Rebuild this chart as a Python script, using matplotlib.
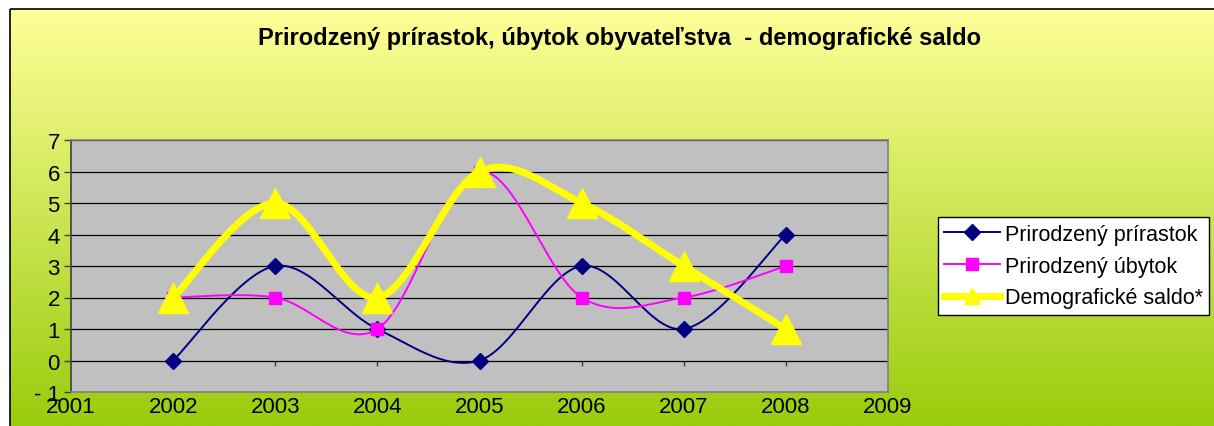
import numpy as np
import matplotlib
matplotlib.use('Agg')
from matplotlib import pyplot as plt
from matplotlib.patches import Rectangle

years = [2002, 2003, 2004, 2005, 2006, 2007, 2008]
prirastok = [0, 3, 1, 0, 3, 1, 4]
ubytok = [2, 2, 1, 6, 2, 2, 3]
saldo = [2, 5, 2, 6, 5, 3, 1]

labels = ['Prirodzený prírastok', 'Prirodzený úbytok', 'Demografické saldo*']
title = 'Prirodzený prírastok, úbytok obyvateľstva  - demografické saldo'

plt.rcParams['font.family'] = ['Liberation Sans', 'DejaVu Sans']


def smooth(x, y, n=30):
    # Excel-like smoothing: cubic bezier with catmull-rom control points
    x = np.asarray(x, float)
    y = np.asarray(y, float)
    px = np.concatenate([[x[0]], x, [x[-1]]])
    py = np.concatenate([[y[0]], y, [y[-1]]])
    xs, ys = [], []
    t = np.linspace(0, 1, n)
    for i in range(1, len(px) - 2):
        p0 = np.array([px[i], py[i]])
        p3 = np.array([px[i + 1], py[i + 1]])
        p1 = p0 + (np.array([px[i + 1], py[i + 1]]) - np.array([px[i - 1], py[i - 1]])) / 6
        p2 = p3 - (np.array([px[i + 2], py[i + 2]]) - np.array([px[i], py[i]])) / 6
        b = ((1 - t) ** 3)[:, None] * p0 + (3 * (1 - t) ** 2 * t)[:, None] * p1 \
            + (3 * (1 - t) * t ** 2)[:, None] * p2 + (t ** 3)[:, None] * p3
        xs.extend(b[:, 0])
        ys.extend(b[:, 1])
    return xs, ys


fig = plt.figure(figsize=(12.14, 4.27), dpi=100)

# background gradient with black frame
bg = fig.add_axes([0, 0, 1, 1])
bg.set_xlim(0, 1214)
bg.set_ylim(427, 0)
bg.axis('off')
grad = np.linspace(0, 1, 256)[:, None]
top = np.array([1.0, 1.0, 0.60])
bot = np.array([0.60, 0.80, 0.05])
img = top[None, None, :] * (1 - grad[:, :, None]) + bot[None, None, :] * grad[:, :, None]
bg.imshow(img, extent=[10, 1214, 427, 10], aspect='auto', zorder=0)
bg.add_patch(Rectangle((10, 10), 1220, 430, fill=False, edgecolor='black', lw=1.2, zorder=1))

fig.text(619 / 1214, 1 - 38 / 427, title, ha='center', va='center',
         fontsize=17, fontweight='bold')

ax = fig.add_axes([71 / 1214, 1 - 393 / 427, (888 - 71) / 1214, (393 - 141) / 427])
ax.set_facecolor('#C0C0C0')
ax.set_xlim(2001, 2009)
ax.set_ylim(-1, 7)

for yv in range(0, 8):
    ax.axhline(yv, color='black', lw=0.9, zorder=1)

ax.vlines(range(2002, 2010), -0.18, 0, color='#404040', lw=1, zorder=1)

x, y = smooth(years, prirastok)
ax.plot(x, y, color='#000080', lw=1.4, zorder=3)
ax.plot(years, prirastok, ls='none', marker='D', ms=8, color='#000080', zorder=4)

x, y = smooth(years, ubytok)
ax.plot(x, y, color='#FF00FF', lw=1.4, zorder=3)
ax.plot(years, ubytok, ls='none', marker='s', ms=8, color='#FF00FF', zorder=4)

x, y = smooth(years, saldo)
ax.plot(x, y, color='#FFFF00', lw=5, zorder=5, solid_capstyle='round')
ax.plot(years, saldo, ls='none', marker='^', ms=21, color='#FFFF00', zorder=6)

ax.set_xticks(range(2001, 2010))
ax.set_yticks(range(-1, 8))
ax.set_yticklabels(['- 1'] + [str(v) for v in range(0, 8)])
ax.tick_params(axis='x', length=0, pad=3, labelsize=16)
ax.tick_params(axis='y', length=5, width=1, color='#404040', pad=3, labelsize=16)

for s in ['top', 'right', 'bottom']:
    ax.spines[s].set_color('#808080')
    ax.spines[s].set_linewidth(1.2)
ax.spines['left'].set_color('#404040')
ax.spines['left'].set_linewidth(1.2)

handles = [
    plt.Line2D([], [], color='#000080', lw=1.4, marker='D', ms=8),
    plt.Line2D([], [], color='#FF00FF', lw=1.4, marker='s', ms=8),
    plt.Line2D([], [], color='#FFFF00', lw=5, marker='^', ms=12),
]
leg = fig.legend(handles, labels, loc='center left',
                 bbox_to_anchor=(938 / 1214, 1 - 267 / 427),
                 fontsize=15.5, frameon=True, fancybox=False, framealpha=1,
                 edgecolor='black', handlelength=2.6, handletextpad=0.2,
                 borderpad=0.3, labelspacing=0.5, borderaxespad=0)
leg.get_frame().set_linewidth(1)

fig.savefig('out.png', dpi=100)
